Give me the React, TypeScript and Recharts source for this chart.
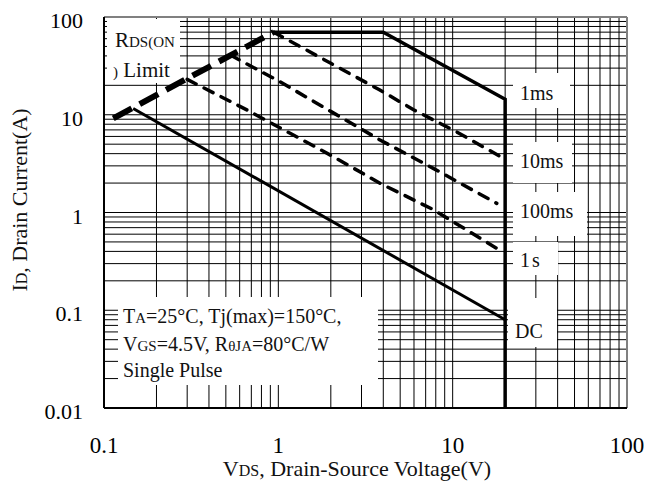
import React from "react";
import {
  LineChart,
  Line,
  XAxis,
  YAxis,
  CartesianGrid,
  ReferenceArea,
  ReferenceLine,
} from "recharts";

if (typeof document !== "undefined") {
  document.body.style.margin = "0";
}

const FONT = '"Liberation Serif", "Times New Roman", serif';

// ---------- ticks ----------
const xGridTicks = [
  0.1, 0.2, 0.3, 0.4, 0.5, 0.6, 0.7, 0.8, 0.9,
  1, 2, 3, 4, 5, 6, 7, 8, 9,
  10, 20, 30, 40, 50, 60, 70, 80, 90, 100,
];
const yGridTicks = [
  0.01, 0.02, 0.03, 0.04, 0.05, 0.06, 0.07, 0.08, 0.09,
  0.1, 0.2, 0.3, 0.4, 0.5, 0.6, 0.7, 0.8, 0.9,
  1, 2, 3, 4, 5, 6, 7, 8, 9,
  10, 20, 30, 40, 50, 60, 70, 80, 90, 100,
];
const xMajorTicks = [0.1, 1, 10, 100];
const xMajorLabels = ["0.1", "1", "10", "100"];
const yMajorTicks = [0.01, 0.1, 1, 10, 100];
const yMajorLabels = ["0.01", "0.1", "1", "10", "100"];

// ---------- series (VDS [V], ID [A]) ----------
const rdsLimit = [
  { x: 0.113, y: 9.2 },
  { x: 0.94, y: 70 },
];
const dcLine = [
  { x: 0.147, y: 11.6 },
  { x: 20, y: 0.08 },
];
const pulse1ms = [
  { x: 0.94, y: 70 },
  { x: 4, y: 70 },
  { x: 20, y: 14.4 },
  { x: 20, y: 0.01 },
];
const pulse10ms = [
  { x: 0.94, y: 70 },
  { x: 2, y: 33.6 },
  { x: 3.8, y: 18 },
  { x: 6, y: 11.2 },
  { x: 10.5, y: 6.7 },
  { x: 18.7, y: 3.75 },
];
const pulse100ms = [
  { x: 0.53, y: 40.8 },
  { x: 1.02, y: 21.8 },
  { x: 2.02, y: 10.7 },
  { x: 3.83, y: 5.52 },
  { x: 7.74, y: 2.83 },
  { x: 17.9, y: 1.24 },
];
const pulse1s = [
  { x: 0.3, y: 23 },
  { x: 0.66, y: 11.2 },
  { x: 1.22, y: 6.2 },
  { x: 2.07, y: 3.72 },
  { x: 3.83, y: 1.99 },
  { x: 7.74, y: 1.07 },
  { x: 18.7, y: 0.41 },
];

// ---------- geometry ----------
const W = 645;
const H = 484;
const PLOT = { left: 104, right: 627, top: 17, bottom: 408 };
const pxToX = (px: number) =>
  Math.pow(10, -1 + (3 * (px - PLOT.left)) / (PLOT.right - PLOT.left));
const pxToY = (py: number) =>
  Math.pow(10, 2 - (4 * (py - PLOT.top)) / (PLOT.bottom - PLOT.top));

const XTick = (props: any) => {
  const { x, y, payload } = props;
  const i = xMajorTicks.indexOf(payload.value);
  if (i < 0) return <g />;
  return (
    <text x={x} y={y + 45} textAnchor="middle" fontFamily={FONT} fontSize={23} fill="#000">
      {xMajorLabels[i]}
    </text>
  );
};

const YTick = (props: any) => {
  const { x, y, payload } = props;
  const i = yMajorTicks.indexOf(payload.value);
  if (i < 0) return <g />;
  return (
    <text x={x - 21} y={y + 11} textAnchor="end" fontFamily={FONT} fontSize={22} fill="#000">
      {yMajorLabels[i]}
    </text>
  );
};

type Box = { l: number; r: number; t: number; b: number; draw: () => React.ReactNode };

const SUB = 15;
const TXT = 20;

const boxes: Box[] = [
  {
    l: 107, r: 180, t: 19, b: 83,
    draw: () => (
      <g fontFamily={FONT} fill="#111">
        <text x={115} y={47} fontSize={21}>
          R<tspan fontSize={SUB}>DS(ON</tspan>
        </text>
        <text x={113} y={77} fontSize={21}>
          <tspan fontSize={SUB}>)</tspan> Limit
        </text>
      </g>
    ),
  },
  {
    l: 513, r: 570, t: 73, b: 108,
    draw: () => (
      <text x={520} y={100} fontFamily={FONT} fontSize={TXT} fill="#111">1ms</text>
    ),
  },
  {
    l: 513, r: 572, t: 142, b: 183,
    draw: () => (
      <text x={520} y={168} fontFamily={FONT} fontSize={TXT} fill="#111">10ms</text>
    ),
  },
  {
    l: 513, r: 587, t: 192, b: 236,
    draw: () => (
      <text x={520} y={218} fontFamily={FONT} fontSize={TXT} fill="#111">100ms</text>
    ),
  },
  {
    l: 513, r: 558, t: 242, b: 275,
    draw: () => (
      <text x={520} y={267} fontFamily={FONT} fontSize={TXT} fill="#111" letterSpacing={2}>1s</text>
    ),
  },
  {
    l: 508, r: 557, t: 298, b: 347,
    draw: () => (
      <text x={515} y={338} fontFamily={FONT} fontSize={TXT} fill="#111">DC</text>
    ),
  },
  {
    l: 118, r: 378, t: 297, b: 385,
    draw: () => (
      <g fontFamily={FONT} fontSize={TXT} fill="#111">
        <text x={123} y={323}>
          T<tspan fontSize={SUB}>A</tspan>=25°C, Tj(max)=150°C,
        </text>
        <text x={123} y={351}>
          V<tspan fontSize={SUB}>GS</tspan>=4.5V, R<tspan fontSize={SUB}>θJA</tspan>=80°C/W
        </text>
        <text x={123} y={377}>Single Pulse</text>
      </g>
    ),
  },
];

const XTitle = () => (
  <text x={357} y={476} textAnchor="middle" fontFamily={FONT} fontSize={22} fill="#111">
    V<tspan fontSize={16}>DS</tspan>, Drain-Source Voltage(V)
  </text>
);

const YTitle = () => (
  <text
    x={27}
    y={200}
    transform="rotate(-90, 27, 200)"
    textAnchor="middle"
    fontFamily={FONT}
    fontSize={22}
    fill="#111"
  >
    I<tspan fontSize={16}>D</tspan>, Drain Current(A)
  </text>
);

export default function App() {
  return (
    <div style={{ width: W, height: H, background: "#fff" }}>
      <LineChart
        width={W}
        height={H}
        margin={{ top: PLOT.top, right: W - PLOT.right, bottom: H - PLOT.bottom - 30, left: PLOT.left - 60 }}
      >
        <CartesianGrid stroke="#000" strokeWidth={1} />
        <XAxis
          type="number"
          dataKey="x"
          scale="log"
          domain={[0.1, 100]}
          allowDataOverflow
          ticks={xGridTicks}
          interval={0}
          tick={XTick}
          tickLine={false}
          tickSize={0}
          tickMargin={0}
          height={30}
          axisLine={{ stroke: "#000", strokeWidth: 2 }}
          label={{ content: () => <XTitle /> }}
        />
        <YAxis
          type="number"
          dataKey="y"
          scale="log"
          domain={[0.01, 100]}
          allowDataOverflow
          ticks={yGridTicks}
          interval={0}
          tick={YTick}
          tickLine={false}
          tickSize={0}
          tickMargin={0}
          width={60}
          axisLine={{ stroke: "#000", strokeWidth: 2 }}
          label={{ content: () => <YTitle /> }}
        />
        <ReferenceLine y={100} stroke="#808080" strokeWidth={2} />
        <ReferenceLine x={100} stroke="#808080" strokeWidth={2} />
        {boxes.map((b, i) => (
          <ReferenceArea
            key={i}
            x1={pxToX(b.l)}
            x2={pxToX(b.r)}
            y1={pxToY(b.b)}
            y2={pxToY(b.t)}
            shape={(p: any) => (
              <g>
                <rect x={p.x} y={p.y} width={p.width} height={p.height} fill="#fff" />
                {b.draw()}
              </g>
            )}
          />
        ))}
        <Line data={dcLine} dataKey="y" stroke="#000" strokeWidth={3} dot={false} isAnimationActive={false} />
        <Line data={pulse1ms} dataKey="y" stroke="#000" strokeWidth={3.5} dot={false} isAnimationActive={false} />
        <Line
          data={pulse10ms}
          dataKey="y"
          stroke="#000"
          strokeWidth={3.5}
          strokeDasharray="10 9"
          strokeLinecap="round"
          dot={false}
          isAnimationActive={false}
        />
        <Line
          data={pulse100ms}
          dataKey="y"
          stroke="#000"
          strokeWidth={3.5}
          strokeDasharray="10 9"
          strokeLinecap="round"
          dot={false}
          isAnimationActive={false}
        />
        <Line
          data={pulse1s}
          dataKey="y"
          stroke="#000"
          strokeWidth={3.5}
          strokeDasharray="10 9"
          strokeLinecap="round"
          dot={false}
          isAnimationActive={false}
        />
        <Line
          data={rdsLimit}
          dataKey="y"
          stroke="#000"
          strokeWidth={6}
          strokeDasharray="21 9"
          dot={false}
          isAnimationActive={false}
        />
      </LineChart>
    </div>
  );
}
